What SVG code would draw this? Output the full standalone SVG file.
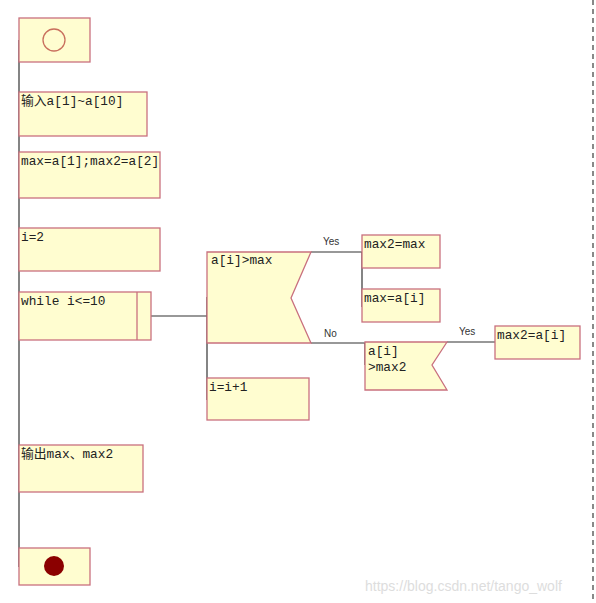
<svg xmlns="http://www.w3.org/2000/svg" width="596" height="603" viewBox="0 0 596 603">
<style>
.n{fill:#fffdd0;stroke:#c9707e;stroke-width:1.3}
.t{font-family:"Liberation Mono","Noto Sans CJK SC",monospace;font-size:12.8px;fill:#222}
.c{stroke:#333;stroke-width:1.2;fill:none}
.l{font-family:"Liberation Sans",Arial,sans-serif;font-size:10px;fill:#333}
</style>
<rect width="596" height="603" fill="#fff"/>
<line x1="593" y1="0" x2="593" y2="603" stroke="#888" stroke-width="2" stroke-dasharray="5,4"/>
<g id="connectors">
<line class="c" x1="19" y1="40" x2="19" y2="567"/>
<line class="c" x1="151" y1="316" x2="207" y2="316"/>
<line class="c" x1="207" y1="297" x2="207" y2="400"/>
<line class="c" x1="311" y1="252" x2="362" y2="252"/>
<line class="c" x1="362" y1="252" x2="362" y2="307"/>
<line class="c" x1="311" y1="343" x2="365" y2="343"/>
<line class="c" x1="365" y1="343" x2="365" y2="365"/>
<line class="c" x1="447" y1="342" x2="495" y2="342"/>
<text class="l" x="323" y="245">Yes</text>
<text class="l" x="324" y="337">No</text>
<text class="l" x="459" y="335">Yes</text>
</g>
<g id="start"><rect class="n" x="19" y="18" width="71" height="44"/><circle cx="54" cy="40" r="11" fill="none" stroke="#c9705e" stroke-width="1.3"/></g>
<g id="input"><rect class="n" x="19" y="92" width="128" height="44"/><text class="t" x="21" y="105">输入a[1]~a[10]</text></g>
<g id="init"><rect class="n" x="19" y="152" width="141" height="46"/><text class="t" x="21" y="165">max=a[1];max2=a[2]</text></g>
<g id="i2"><rect class="n" x="19" y="228" width="141" height="43"/><text class="t" x="21" y="241">i=2</text></g>
<g id="while"><rect class="n" x="19" y="292" width="132" height="48"/><line class="n" x1="137" y1="292" x2="137" y2="340"/><text class="t" x="21" y="305">while i&lt;=10</text></g>
<g id="dec1"><polygon class="n" points="207,252 311,252 291,298 311,343 207,343"/><text class="t" x="211" y="264">a[i]&gt;max</text></g>
<g id="m2max"><rect class="n" x="362" y="235" width="78" height="33"/><text class="t" x="364" y="248">max2=max</text></g>
<g id="maxai"><rect class="n" x="362" y="289" width="78" height="33"/><text class="t" x="364" y="302">max=a[i]</text></g>
<g id="dec2"><polygon class="n" points="365,342 447,342 432,365 447,390 365,390"/><text class="t" x="368" y="355">a[i]</text><text class="t" x="368" y="371">&gt;max2</text></g>
<g id="m2ai"><rect class="n" x="495" y="326" width="85" height="33"/><text class="t" x="497" y="339">max2=a[i]</text></g>
<g id="inc"><rect class="n" x="207" y="378" width="102" height="42"/><text class="t" x="209" y="391">i=i+1</text></g>
<g id="output"><rect class="n" x="19" y="445" width="124" height="47"/><text class="t" x="21" y="458">输出max、max2</text></g>
<g id="end"><rect class="n" x="19" y="548" width="71" height="37"/><circle cx="54" cy="566" r="10" fill="#8b0000"/></g>
<text x="365" y="591" font-family="Liberation Sans,Arial,sans-serif" font-size="14" fill="#ddd">https://blog.csdn.net/tango_wolf</text>
</svg>
